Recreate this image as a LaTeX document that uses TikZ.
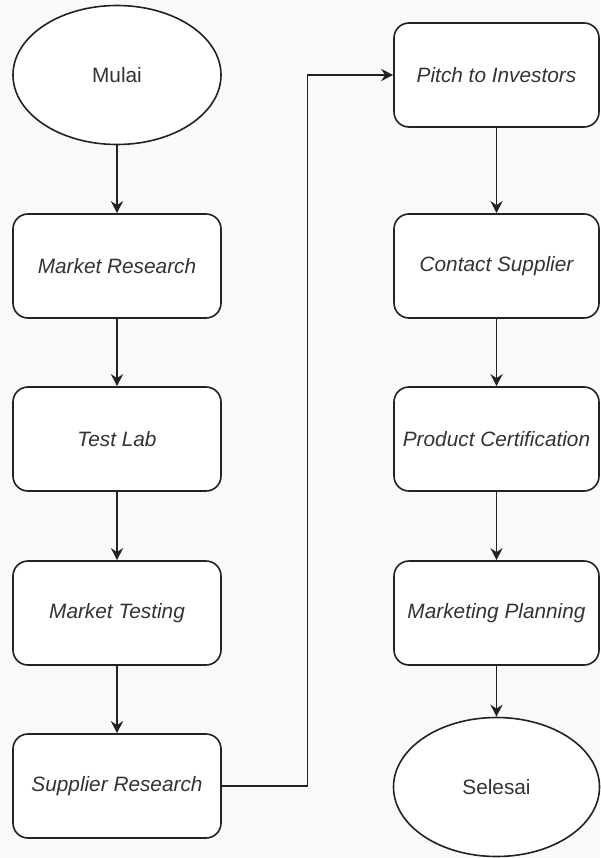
\documentclass[tikz,border=0pt]{standalone}
\usepackage{fontspec}
\setmainfont{Liberation Sans}
\usetikzlibrary{shapes.geometric,arrows.meta}
\definecolor{pagebg}{HTML}{F9F9F9}
\definecolor{ink}{HTML}{222222}
\definecolor{txt}{HTML}{333333}
\tikzset{
  stepbox/.style={draw=ink, fill=white, line width=1.6pt, rounded corners=15pt,
    minimum width=208pt, minimum height=104pt, inner sep=0pt,
    font=\fontsize{20.8}{24}\selectfont\itshape, text=txt},
  terminal/.style={draw=ink, fill=white, line width=1.6pt, ellipse,
    minimum width=208pt, minimum height=139pt, inner sep=0pt,
    font=\fontsize{20.8}{24}\selectfont, text=txt},
  flow/.style={draw=ink, line width=1.6pt, -{Stealth[length=12pt,width=12pt]}}
}
\begin{document}
\begin{tikzpicture}[x=1pt,y=-1pt]
\fill[pagebg] (0,0) rectangle (600,858);
\useasboundingbox (0,0) rectangle (600,858);
% left column
\node[terminal] (mulai) at (117,75) {Mulai};
\node[stepbox] (mr) at (117,266) {Market Research};
\node[stepbox] (tl) at (117,439) {Test Lab};
\node[stepbox] (mt) at (117,613) {Market Testing};
\node[stepbox] (sr) at (117,786) {Supplier Research};
% right column
\node[stepbox, minimum width=205pt] (pi) at (496.5,75) {Pitch to Investors};
\node[stepbox, minimum width=205pt] (cs) at (496.5,266) {Contact Supplier};
\node[stepbox, minimum width=205pt] (pc) at (496.5,439) {Product Certification};
\node[stepbox, minimum width=205pt] (mp) at (496.5,613) {Marketing Planning};
\node[terminal, minimum width=206pt] (sel) at (496.5,787) {Selesai};
% connectors
\draw[flow] (mulai) -- (mr);
\draw[flow] (mr) -- (tl);
\draw[flow] (tl) -- (mt);
\draw[flow] (mt) -- (sr);
\coordinate (turn) at (307.5,786);
\draw[flow] (sr.east) -- (turn) |- (pi.west);
\draw[flow] (pi) -- (cs);
\draw[flow] (cs) -- (pc);
\draw[flow] (pc) -- (mp);
\draw[flow] (mp) -- (sel);
\end{tikzpicture}
\end{document}
